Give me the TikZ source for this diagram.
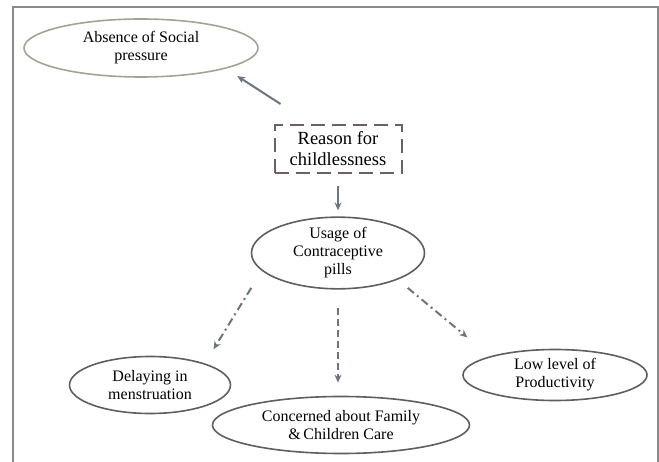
\documentclass[tikz,border=0pt]{standalone}
\usepackage{fontspec}
\setmainfont{Liberation Serif}
\usetikzlibrary{shapes.geometric,arrows.meta}
\definecolor{framegray}{HTML}{8A8A8A}
\definecolor{ovalgray}{HTML}{5E5E5E}
\definecolor{oldgray}{HTML}{A3A395}
\definecolor{boxbrown}{HTML}{6E6060}
\definecolor{arrowgray}{HTML}{6B7482}

\begin{document}
\begin{tikzpicture}[x=1pt,y=-1pt,
    oval/.style={ellipse, draw=ovalgray, line width=1.6pt, inner sep=0pt,
      align=center, font=\fontsize{16}{18}\selectfont},
    arr/.style={draw=arrowgray, line width=2pt, -{Stealth[length=8pt,width=7pt]}},
    dashdot/.style={dash pattern=on 8pt off 4pt on 2pt off 4pt}]
    \useasboundingbox (0,0) rectangle (659,462);
    % Cadre
    \draw[framegray, line width=1.2pt] (13,462) -- (13,7) -- (658,7) -- (658,462);

    % Noeuds
    \node[rectangle, draw=boxbrown, line width=2pt, dash pattern=on 14pt off 7pt,
      minimum width=127pt, minimum height=48pt, inner sep=0pt, align=center,
      font=\fontsize{18.5}{21}\selectfont] (reason) at (338,149) {Reason for\\childlessness};
    \node[oval, draw=oldgray, minimum width=234pt, minimum height=58pt] (absence) at (141,48)
      {Absence of Social\\pressure};
    \node[oval, minimum width=173pt, minimum height=58pt] (usage) at (338,253)
      {Usage of\\Contraceptive\\pills};
    \node[oval, minimum width=161pt, minimum height=57pt] (delay) at (150,385)
      {Delaying in\\menstruation};
    \node[oval, minimum width=257pt, minimum height=57pt] (family) at (341,425)
      {Concerned about Family\\\&\,Children Care};
    \node[oval, minimum width=184pt, minimum height=51pt] (product) at (555,375)
      {Low level of\\Productivity};

    % Fleches
    \draw[arr] ([xshift=7pt,yshift=20pt]reason.north west) -- ([xshift=13pt,yshift=-7pt]absence.south east);
    \draw[arr, shorten <=12pt, shorten >=6pt] (reason) -- (usage);
    \draw[arr, dashdot] ([xshift=-25pt,yshift=-9pt]usage.south west) -- ([xshift=6pt,yshift=15pt]delay.north east);
    \draw[arr, dash pattern=on 7pt off 4pt, shorten <=18pt, shorten >=13pt] (usage.south) -- (usage.south |- family.north);
    \draw[arr, dashdot] ([xshift=8pt,yshift=-9pt]usage.south east) -- ([xshift=-22pt,yshift=19pt]product.north west);
\end{tikzpicture}
\end{document}
